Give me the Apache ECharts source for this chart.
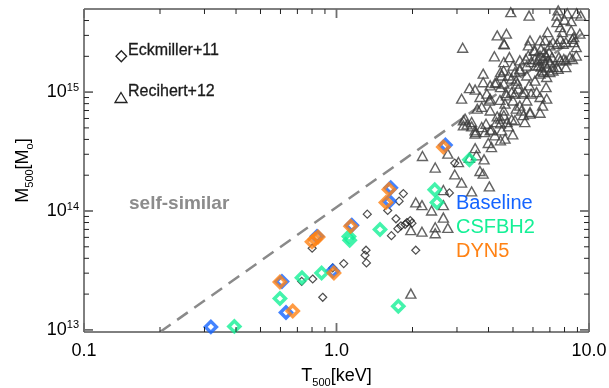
<!DOCTYPE html>
<html>
<head>
<meta charset="utf-8">
<script src="https://cdn.jsdelivr.net/npm/echarts@6/dist/echarts.min.js"></script>
<style>
  html, body { margin: 0; padding: 0; background: #fff; }
  #chart { width: 609px; height: 388px; }
</style>
</head>
<body>
<div id="chart"></div>
<script>
// Axis ranges (log scales)
const X_MIN = 0.1, X_MAX = 10;
const Y_MIN = 9.6e12, Y_MAX = 5e15;

// Tick positions
const X_MAJOR = [0.1, 1, 10];
const X_MINOR = [0.2, 0.3, 0.4, 0.5, 0.6, 0.7, 0.8, 0.9, 2, 3, 4, 5, 6, 7, 8, 9];
const Y_MAJOR = [1e13, 1e14, 1e15];
const Y_MINOR = [2e13, 3e13, 4e13, 5e13, 6e13, 7e13, 8e13, 9e13,
                 2e14, 3e14, 4e14, 5e14, 6e14, 7e14, 8e14, 9e14,
                 2e15, 3e15, 4e15];

// Self-similar relation, M ∝ T^1.5
const SELF_SIMILAR = [[0.2, 9.6e12], [10, 3.4e15]];

// Observed groups: [T500 (keV), M500 (Msun)]
const ECKMILLER = [
  [0.728, 2.56e13], [0.805, 2.68e13], [0.966, 3.32e13], [1.068, 3.61e13], [0.882, 1.88e13],
  [0.801, 4.86e13], [1.309, 4.68e13], [1.297, 4.25e13], [1.314, 3.66e13], [1.84, 1.40e14],
  [1.77, 1.21e14], [1.595, 1.01e14], [1.324, 9.4e13], [1.72, 8.6e13], [1.90, 8.0e13],
  [1.96, 8.3e13], [1.99, 7.9e13], [1.87, 7.7e13], [1.80, 7.5e13], [1.75, 7.1e13],
  [1.65, 6.2e13], [2.94, 2.53e14], [2.80, 1.42e14], [2.06, 4.68e13]
];

const REICHERT = [
  [1.97, 2.02e13], [2.06, 1.18e14], [2.18, 1.12e14], [2.38, 1.01e14], [2.65, 1.12e14],
  [2.65, 8.8e13], [2.46, 7.3e13], [2.46, 6.5e13], [2.76, 7.2e13], [2.18, 6.7e13],
  [1.97, 6.9e13], [2.65, 1.50e14], [2.19, 2.9e14], [2.76, 3.04e14], [2.46, 2.32e14],
  [3.04, 2.58e14], [2.94, 2.03e14], [3.13, 1.73e14], [3.43, 1.46e14], [3.36, 2.8e14],
  [3.54, 3.38e14], [3.58, 2.94e14], [3.84, 2.72e14], [3.70, 2.17e14], [3.81, 2.06e14],
  [4.03, 1.61e14], [3.99, 3.73e14], [4.11, 3.45e14], [3.54, 4.47e14], [3.13, 8.8e14],
  [3.61, 7.25e14], [3.23, 5.98e14], [3.29, 5.35e14], [3.43, 5.6e14], [3.54, 4.77e14],
  [3.76, 5.08e14], [3.91, 5.42e14], [3.87, 4.61e14], [4.11, 4.83e14], [4.33, 6.25e14],
  [4.46, 5.98e14], [4.60, 6.38e14], [4.30, 5.6e14], [4.74, 5.6e14], [3.70, 9.1e14],
  [4.06, 8.8e14], [4.44, 8.6e14], [4.65, 8.0e14], [4.71, 9.4e14], [3.16, 2.36e15],
  [4.62, 2.52e15], [4.22, 2.0e15], [4.84, 1.97e15], [3.81, 1.43e15], [3.36, 1.08e15],
  [3.54, 1.05e15], [4.03, 8.5e14], [4.24, 1.19e15], [4.51, 1.38e15], [4.59, 1.52e15],
  [4.94, 1.30e15], [5.2, 1.18e15], [5.32, 1.52e15], [5.67, 1.38e15], [5.8, 1.14e15],
  [6.11, 1.25e15], [4.94, 1.0e15], [5.09, 9.7e14], [4.69, 9.8e14], [4.46, 1.1e15],
  [5.57, 1.0e15], [5.9, 9.7e14], [6.2, 1.0e15], [6.76, 1.1e15], [6.4, 9.1e14],
  [5.32, 7.7e14], [5.4, 7.0e14], [5.84, 6.8e14], [6.4, 6.7e14], [4.94, 5.9e14],
  [5.5, 6.4e14], [3.18, 5.8e14], [4.9, 4.7e15], [5.79, 4.4e15], [7.55, 4.87e15],
  [7.47, 4.4e15], [8.2, 4.6e15], [8.93, 4.6e15], [9.27, 4.4e15], [7.47, 3.88e15],
  [8.0, 4.06e15], [8.5, 3.95e15], [7.7, 3.52e15], [4.33, 3.0e15], [4.71, 3.1e15],
  [4.6, 2.55e15], [5.84, 2.72e15], [5.75, 2.47e15], [6.4, 2.72e15], [6.85, 3.19e15],
  [7.85, 3.19e15], [8.5, 3.3e15], [8.7, 2.9e15], [7.7, 2.8e15], [8.1, 2.63e15],
  [8.7, 2.63e15], [7.0, 2.47e15], [7.47, 2.55e15], [6.45, 2.3e15], [6.11, 2.24e15],
  [6.40, 2.03e15], [6.58, 1.92e15], [6.76, 2.03e15], [6.89, 1.85e15], [6.70, 1.74e15],
  [6.46, 1.64e15], [7.01, 1.78e15], [6.64, 2.16e15], [6.28, 1.85e15], [6.82, 1.61e15],
  [7.14, 1.96e15], [6.17, 1.68e15], [6.95, 2.16e15], [6.52, 1.52e15], [7.20, 1.64e15],
  [7.6, 1.97e15], [7.95, 1.9e15], [8.4, 1.97e15], [8.9, 2.03e15], [5.9, 1.79e15],
  [5.75, 2.03e15], [5.32, 1.57e15], [7.0, 1.47e15], [7.55, 1.57e15], [8.1, 1.62e15],
  [5.09, 1.47e15], [9.2, 3.1e15], [8.6, 2.8e15], [5.62, 1.9e15], [6.05, 2.24e15],
  [6.11, 1.9e15], [6.7, 2.72e15], [7.2, 2.63e15], [7.9, 2.55e15], [8.9, 2.39e15],
  [8.1, 1.85e15], [8.6, 1.9e15], [7.7, 1.85e15], [7.47, 1.62e15], [7.2, 1.52e15],
  [6.6, 1.47e15], [6.3, 1.67e15], [5.67, 1.67e15], [5.32, 1.85e15], [5.0, 1.67e15],
  [4.6, 1.79e15], [4.46, 1.47e15], [4.8, 1.38e15], [5.15, 1.25e15], [5.24, 1.07e15],
  [4.6, 1.18e15], [4.3, 1.21e15], [4.06, 1.14e15], [3.81, 1.21e15], [3.94, 9.7e14],
  [6.4, 1.43e15], [6.8, 1.34e15], [6.8, 8.8e14], [5.45, 9.7e14], [5.67, 8.5e14],
  [5.0, 8.5e14], [4.6, 7.0e14], [5.15, 7.25e14], [5.57, 5.6e14], [5.09, 5.8e14],
  [4.8, 5.15e14], [4.46, 5.45e14], [4.51, 4.77e14], [4.65, 4.06e14], [4.46, 3.93e14],
  [4.24, 4.33e14], [5.84, 6.6e14], [6.55, 7.7e14], [4.06, 7.0e14], [3.76, 7.5e14],
  [4.99, 4.41e14], [3.18, 5.25e14], [3.43, 5.15e14], [3.56, 4.61e14], [4.06, 4.77e14]
];

// Simulated groups: [T500 (keV), M500 (Msun)]
const BASELINE = [
  [0.318, 1.06e13], [0.608, 2.55e13], [0.631, 1.40e13], [0.837, 6.12e13], [1.15, 7.6e13],
  [0.966, 3.13e13], [1.64, 1.57e14], [1.62, 1.21e14], [2.70, 3.59e14]
];
const CSFBH2 = [
  [0.394, 1.07e13], [0.597, 1.84e13], [0.730, 2.75e13], [0.873, 3.01e13], [1.128, 5.67e13],
  [1.12, 6.1e13], [1.487, 6.99e13], [2.45, 1.51e14], [2.50, 1.18e14], [3.36, 2.7e14],
  [1.757, 1.58e13]
];
const DYN5 = [
  [0.597, 2.53e13], [0.671, 1.44e13], [0.800, 5.5e13], [0.822, 5.78e13], [0.845, 6.05e13],
  [0.977, 3.01e13], [1.138, 7.43e13], [1.614, 1.52e14], [1.57, 1.18e14], [2.65, 3.45e14]
];

const BLUE = '#1464ff', GREEN = '#14f096', ORANGE = '#ff8214';
const FONT = 'Liberation Sans, Arial, Helvetica, sans-serif';

const isPow10 = v => Math.abs(Math.log10(v) - Math.round(Math.log10(v))) < 1e-6;

// Inward ticks on all four sides of the frame
function tickItem(params, api) {
  const major = api.value(2) === 1;
  const len = major ? 9 : 5;
  const style = { stroke: major ? '#6e6e6e' : '#222', lineWidth: major ? 1.8 : 1 };
  const isX = api.value(3) === 0;
  let a, b;
  if (isX) {
    a = api.coord([api.value(0), Y_MIN]);
    b = api.coord([api.value(0), Y_MAX]);
    return { type: 'group', children: [
      { type: 'line', shape: { x1: a[0], y1: a[1], x2: a[0], y2: a[1] - len }, style },
      { type: 'line', shape: { x1: b[0], y1: b[1], x2: b[0], y2: b[1] + len }, style }
    ]};
  }
  a = api.coord([X_MIN, api.value(1)]);
  b = api.coord([X_MAX, api.value(1)]);
  return { type: 'group', children: [
    { type: 'line', shape: { x1: a[0], y1: a[1], x2: a[0] + len, y2: a[1] }, style },
    { type: 'line', shape: { x1: b[0], y1: b[1], x2: b[0] - len, y2: b[1] }, style }
  ]};
}
const tickData = [].concat(
  X_MAJOR.map(v => [v, Y_MIN, 1, 0]),
  X_MINOR.map(v => [v, Y_MIN, 0, 0]),
  Y_MAJOR.map(v => [X_MIN, v, 1, 1]),
  Y_MINOR.map(v => [X_MIN, v, 0, 1])
);

function simSeries(name, data, color, z) {
  return {
    name, type: 'scatter', data, z,
    symbol: 'diamond', symbolSize: 11,
    itemStyle: { color: 'rgba(0,0,0,0)', borderColor: color, borderWidth: 3.5 },
    emphasis: { disabled: true }
  };
}

const chart = echarts.init(document.getElementById('chart'), null, { renderer: 'canvas' });
chart.setOption({
  animation: false,
  backgroundColor: '#fff',
  grid: {
    left: 84, right: 20, top: 9, bottom: 56, show: true,
    borderColor: '#000', borderWidth: 1,
    containLabel: false, outerBoundsMode: 'none'
  },
  xAxis: {
    type: 'log', logBase: 10, min: X_MIN, max: X_MAX,
    axisLine: { show: false }, axisTick: { show: false }, splitLine: { show: false },
    axisLabel: {
      fontFamily: FONT, fontSize: 18, color: '#000', margin: 10,
      formatter: v => isPow10(v) ? v.toFixed(1) : ''
    },
    name: '{n|T}{s|500}{n|[keV]}',
    nameLocation: 'middle', nameGap: 35,
    nameTextStyle: {
      rich: {
        n: { fontFamily: FONT, fontSize: 18, color: '#000', lineHeight: 18, verticalAlign: 'top' },
        s: { fontFamily: FONT, fontSize: 11, color: '#000', lineHeight: 11, padding: [10, 0, 0, 0], verticalAlign: 'top' }
      }
    }
  },
  yAxis: {
    type: 'log', logBase: 10, min: Y_MIN, max: Y_MAX,
    axisLine: { show: false }, axisTick: { show: false }, splitLine: { show: false },
    axisLabel: {
      margin: 5,
      formatter: v => isPow10(v) ? '{b|10}{e|' + Math.round(Math.log10(v)) + '}' : '',
      rich: {
        b: { fontFamily: FONT, fontSize: 18, color: '#000', lineHeight: 18, verticalAlign: 'bottom' },
        e: { fontFamily: FONT, fontSize: 11, color: '#000', lineHeight: 11, padding: [0, 0, 8, 0], verticalAlign: 'bottom' }
      }
    },
    name: '{n|M}{s|500}{n|[M}{s|o}{n|]}',
    nameLocation: 'middle', nameGap: 52,
    nameTextStyle: {
      rich: {
        n: { fontFamily: FONT, fontSize: 18, color: '#000', lineHeight: 18, verticalAlign: 'top' },
        s: { fontFamily: FONT, fontSize: 11, color: '#000', lineHeight: 11, padding: [10, 0, 0, 0], verticalAlign: 'top' }
      }
    }
  },
  series: [
    {
      name: 'self-similar', type: 'line', data: SELF_SIMILAR, symbol: 'none', z: 1,
      lineStyle: { color: '#8a8a8a', width: 2.5, type: [13, 8] },
      emphasis: { disabled: true }
    },
    {
      name: 'Recihert+12', type: 'scatter', data: REICHERT, z: 2,
      symbol: 'triangle', symbolSize: [10, 9],
      itemStyle: { color: 'rgba(0,0,0,0)', borderColor: '#3c3c3c', borderWidth: 1.4 },
      emphasis: { disabled: true }
    },
    {
      name: 'Eckmiller+11', type: 'scatter', data: ECKMILLER, z: 3,
      symbol: 'diamond', symbolSize: 8,
      itemStyle: { color: 'rgba(0,0,0,0)', borderColor: '#222', borderWidth: 1.2 },
      emphasis: { disabled: true }
    },
    simSeries('Baseline', BASELINE, BLUE, 4),
    simSeries('CSFBH2', CSFBH2, GREEN, 5),
    simSeries('DYN5', DYN5, ORANGE, 6),
    {
      type: 'custom', renderItem: tickItem, data: tickData, z: 10, silent: true,
      encode: { x: 0, y: 1 }
    }
  ],
  graphic: [
    { type: 'polygon', shape: { points: [[121.3, 50.7], [126.6, 56.2], [121.3, 61.7], [116, 56.2]] },
      style: { fill: 'none', stroke: '#222', lineWidth: 1.3 } },
    { type: 'text', style: { x: 128, y: 51, text: 'Eckmiller+11', font: '16px ' + FONT, fill: '#1a1a1a', verticalAlign: 'middle', stroke: '#1a1a1a', lineWidth: 0.3 } },
    { type: 'polygon', shape: { points: [[121, 92.5], [127, 102.5], [115, 102.5]] },
      style: { fill: 'none', stroke: '#222', lineWidth: 1.3 } },
    { type: 'text', style: { x: 128, y: 91.5, text: 'Recihert+12', font: '16px ' + FONT, fill: '#1a1a1a', verticalAlign: 'middle', stroke: '#1a1a1a', lineWidth: 0.3 } },
    { type: 'text', style: { x: 129, y: 204, text: 'self-similar', font: 'bold 19px ' + FONT, fill: '#8c8c8c', verticalAlign: 'middle' } },
    { type: 'text', style: { x: 456, y: 203.5, text: 'Baseline', font: '20px ' + FONT, fill: BLUE, verticalAlign: 'middle' } },
    { type: 'text', style: { x: 456, y: 227, text: 'CSFBH2', font: '20px ' + FONT, fill: GREEN, verticalAlign: 'middle' } },
    { type: 'text', style: { x: 456, y: 251, text: 'DYN5', font: '20px ' + FONT, fill: ORANGE, verticalAlign: 'middle' } }
  ]
});
</script>
</body>
</html>
